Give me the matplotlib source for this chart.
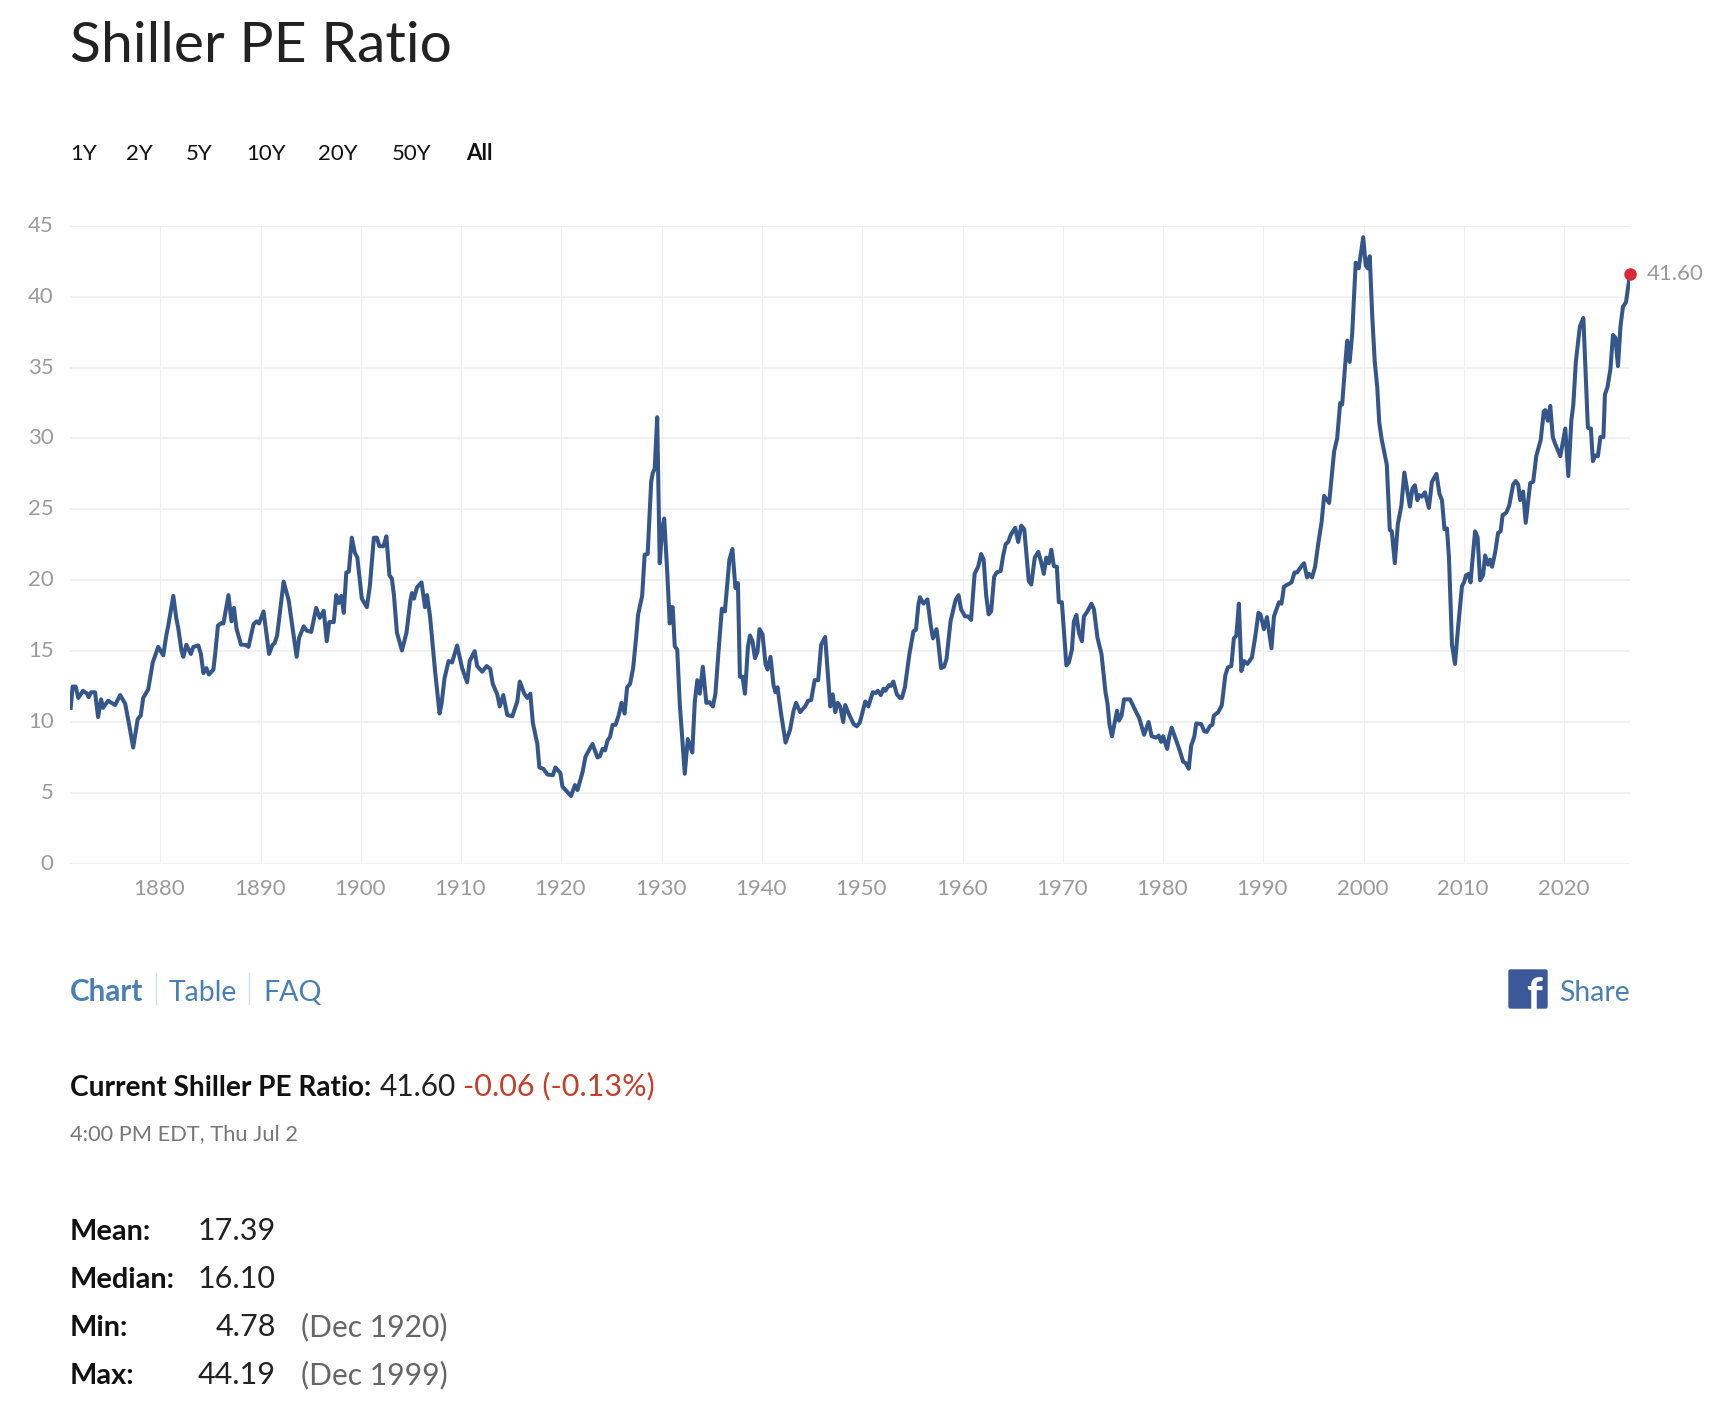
import matplotlib
matplotlib.use("Agg")
import matplotlib.pyplot as plt
from matplotlib.patches import FancyBboxPatch
from matplotlib.lines import Line2D
from matplotlib.transforms import ScaledTranslation

W, H = 1732, 1424

# values, decimal year / ratio
years_early = [1871.07, 1871.26, 1871.56, 1871.83, 1872.3, 1872.7, 1872.86, 1873.1, 1873.5, 1873.8,
               1874.1, 1874.3, 1874.8, 1875.5, 1876.0, 1876.5, 1876.9, 1877.3, 1877.75, 1878.05,
               1878.3, 1878.8, 1879.25, 1879.8, 1880.3, 1880.6, 1880.8, 1881.3, 1881.6, 1881.8,
               1882.1, 1882.3, 1882.6, 1883.05, 1883.3, 1883.8, 1884.05, 1884.3, 1884.6, 1884.85,
               1885.3, 1885.5, 1885.75, 1886.15, 1886.3, 1886.8, 1887.1, 1887.35, 1887.6, 1888.05,
               1888.5, 1888.8, 1889.3, 1889.6, 1889.85, 1890.3, 1890.85, 1891.2, 1891.4, 1891.65,
               1892.3, 1892.8, 1893.6, 1893.85, 1894.3, 1894.6, 1895.05, 1895.55, 1895.9, 1896.3,
               1896.6, 1896.85, 1897.3, 1897.55, 1897.8, 1898.05, 1898.3, 1898.55, 1898.8, 1899.1,
               1899.4, 1899.65, 1900.1, 1900.6, 1900.9, 1901.3, 1901.6, 1901.85, 1902.25, 1902.55,
               1902.85, 1903.1, 1903.3, 1903.6, 1904.1, 1904.55, 1904.95, 1905.1, 1905.3, 1905.6,
               1906.05, 1906.4, 1906.6, 1906.9, 1907.4, 1907.85, 1908.05, 1908.35, 1908.75, 1909.1,
               1909.6, 1910.1, 1910.6, 1910.85, 1911.35, 1911.6, 1912.1, 1912.55, 1912.9, 1913.15,
               1913.6, 1913.85, 1914.2, 1914.6, 1915.1, 1915.6, 1915.85, 1916.3, 1916.6, 1916.9,
               1917.15, 1917.6, 1917.8, 1918.2, 1918.6, 1919.15, 1919.4, 1919.9, 1920.1, 1920.6,
               1920.95, 1921.35, 1921.6, 1922.1, 1922.4, 1922.7, 1923.1, 1923.6]
values_early = [11.0, 12.5, 12.5, 11.7, 12.2, 12.0, 11.75, 12.1, 12.1, 10.35,
                11.6, 11.0, 11.5, 11.2, 11.9, 11.3, 9.8, 8.2, 10.2, 10.45,
                11.7, 12.3, 14.2, 15.3, 14.7, 16.1, 16.8, 18.9, 17.3, 16.6,
                15.1, 14.6, 15.45, 14.8, 15.3, 15.4, 14.8, 13.45, 13.8, 13.35,
                13.7, 14.95, 16.8, 17.0, 16.95, 18.95, 17.1, 18.05, 16.6, 15.45,
                15.45, 15.3, 16.9, 17.1, 16.95, 17.8, 14.8, 15.45, 15.55, 16.1,
                19.9, 18.6, 14.6, 15.95, 16.75, 16.45, 16.35, 18.05, 17.35, 17.85,
                15.7, 17.05, 17.05, 18.95, 18.4, 18.9, 17.7, 20.55, 20.6, 23.0,
                21.95, 21.6, 18.7, 18.1, 19.6, 23.0, 23.0, 22.4, 22.4, 23.1,
                20.35, 20.1, 18.95, 16.3, 15.05, 16.3, 18.6, 19.1, 18.7, 19.5,
                19.85, 18.1, 18.95, 17.45, 13.6, 10.6, 11.3, 13.1, 14.3, 14.2,
                15.4, 13.8, 12.8, 14.3, 15.0, 13.95, 13.55, 13.95, 13.75, 12.7,
                11.95, 11.1, 11.9, 10.5, 10.4, 11.45, 12.85, 12.0, 11.7, 12.0,
                9.95, 8.45, 6.8, 6.7, 6.3, 6.25, 6.8, 6.4, 5.45, 5.05,
                4.78, 5.55, 5.2, 6.45, 7.55, 7.95, 8.45, 7.5]

years_middle = [1923.85, 1924.1, 1924.35, 1924.6, 1924.85, 1925.1, 1925.4, 1925.7, 1926.0, 1926.3,
                1926.55, 1926.85, 1927.15, 1927.45, 1927.65, 1928.05, 1928.3, 1928.6, 1928.95, 1929.1,
                1929.3, 1929.55, 1929.8, 1930.05, 1930.25, 1930.55, 1930.8, 1930.95, 1931.1, 1931.3,
                1931.55, 1931.8, 1932.3, 1932.6, 1933.05, 1933.3, 1933.55, 1933.8, 1934.1, 1934.45,
                1934.75, 1935.1, 1935.35, 1935.7, 1936.0, 1936.3, 1936.75, 1937.05, 1937.35, 1937.6,
                1937.8, 1938.05, 1938.3, 1938.6, 1938.8, 1939.05, 1939.3, 1939.55, 1939.75, 1940.05,
                1940.35, 1940.55, 1940.85, 1941.15, 1941.35, 1941.55, 1941.9, 1942.35, 1942.8, 1943.15,
                1943.4, 1943.8, 1944.3, 1944.6, 1944.9, 1945.25, 1945.6, 1945.9, 1946.3, 1946.8,
                1947.05, 1947.3, 1947.55, 1947.8, 1948.1, 1948.3, 1948.7, 1949.15, 1949.45, 1949.75,
                1950.3, 1950.6, 1951.05, 1951.35, 1951.55, 1951.85, 1952.1, 1952.3, 1952.65, 1952.85,
                1953.1, 1953.45, 1953.75, 1953.95, 1954.25, 1954.7, 1955.1, 1955.35, 1955.6, 1955.75,
                1956.1, 1956.5, 1956.8, 1957.05, 1957.4, 1957.55, 1957.85, 1958.15, 1958.4, 1958.8,
                1959.3, 1959.6, 1959.85, 1960.25, 1960.55, 1960.85, 1961.2, 1961.55, 1961.85, 1962.1,
                1962.35, 1962.6, 1962.85, 1963.15, 1963.4, 1963.8, 1964.05, 1964.3, 1964.55, 1964.8,
                1965.25, 1965.55, 1965.85, 1966.15, 1966.6, 1966.85, 1967.2, 1967.55, 1967.85, 1968.1,
                1968.35, 1968.6, 1968.85, 1969.1, 1969.4, 1969.6, 1969.9, 1970.35, 1970.6, 1970.9,
                1971.1, 1971.35, 1971.6, 1971.9, 1972.1, 1972.45, 1972.85, 1973.1, 1973.45, 1973.85,
                1974.25, 1974.45, 1974.65, 1974.9, 1975.4, 1975.6, 1975.85, 1976.1, 1976.7, 1977.1,
                1977.6, 1978.1, 1978.55, 1978.85, 1979.3, 1979.55, 1979.8, 1980.0, 1980.4, 1980.6,
                1980.85]
values_middle = [7.6, 8.1, 8.0, 8.7, 8.95, 9.8, 9.8, 10.45, 11.35, 10.6,
                 12.45, 12.7, 13.8, 15.95, 17.6, 18.9, 21.8, 21.85, 26.95, 27.55,
                 27.85, 31.5, 21.2, 23.65, 24.35, 20.6, 16.95, 18.1, 18.1, 15.35,
                 15.1, 11.3, 6.35, 8.8, 7.85, 11.45, 12.95, 12.0, 13.9, 11.35,
                 11.4, 11.1, 11.95, 15.3, 18.0, 17.8, 21.45, 22.2, 19.45, 19.8,
                 13.2, 13.2, 12.0, 15.3, 16.1, 15.7, 14.5, 14.95, 16.55, 16.2,
                 14.1, 13.7, 14.6, 12.6, 12.1, 12.45, 10.6, 8.55, 9.45, 10.8,
                 11.35, 10.7, 11.1, 11.5, 11.55, 12.95, 12.95, 15.45, 16.0, 11.1,
                 11.95, 10.7, 11.35, 11.1, 10.0, 11.2, 10.5, 9.85, 9.7, 9.95,
                 11.45, 11.1, 12.1, 12.05, 12.2, 11.9, 12.35, 12.2, 12.6, 12.55,
                 12.85, 11.95, 11.7, 11.7, 12.45, 14.8, 16.4, 16.5, 18.3, 18.8,
                 18.35, 18.65, 16.95, 15.9, 16.55, 15.8, 13.8, 13.9, 14.45, 17.1,
                 18.6, 18.95, 17.95, 17.45, 17.45, 17.2, 20.45, 20.95, 21.85, 21.45,
                 18.95, 17.6, 17.8, 20.25, 20.55, 20.65, 21.75, 22.55, 22.7, 23.2,
                 23.7, 22.7, 23.85, 23.6, 19.95, 19.7, 21.6, 22.0, 21.25, 20.45,
                 21.6, 21.2, 22.15, 21.0, 20.95, 18.45, 18.45, 14.0, 14.2, 15.1,
                 17.1, 17.55, 16.3, 15.7, 17.45, 17.8, 18.35, 17.95, 15.95, 14.8,
                 12.1, 11.3, 9.8, 9.0, 10.8, 10.1, 10.45, 11.6, 11.6, 11.0,
                 10.3, 9.1, 10.0, 9.0, 8.9, 9.05, 8.6, 9.0, 8.1, 8.95,
                 9.6]

years_late = [1981.25, 1981.6, 1982.0, 1982.25, 1982.55, 1982.8, 1983.1, 1983.3, 1983.8, 1984.1,
              1984.35, 1984.65, 1984.9, 1985.05, 1985.5, 1985.85, 1986.2, 1986.45, 1986.8, 1987.05,
              1987.3, 1987.55, 1987.8, 1988.1, 1988.4, 1988.85, 1989.2, 1989.5, 1989.7, 1990.05,
              1990.35, 1990.8, 1991.05, 1991.55, 1991.8, 1992.05, 1992.8, 1993.1, 1993.35, 1993.75,
              1994.05, 1994.35, 1994.55, 1994.85, 1995.15, 1995.5, 1995.8, 1996.05, 1996.55, 1997.05,
              1997.35, 1997.65, 1997.85, 1998.1, 1998.35, 1998.6, 1998.85, 1999.2, 1999.5, 1999.95,
              2000.2, 2000.4, 2000.6, 2000.85, 2001.1, 2001.35, 2001.55, 2001.8, 2002.3, 2002.6,
              2002.8, 2003.1, 2003.4, 2003.75, 2004.05, 2004.6, 2004.85, 2005.1, 2005.35, 2005.55,
              2005.8, 2006.1, 2006.5, 2006.8, 2007.25, 2007.55, 2007.8, 2008.05, 2008.3, 2008.5,
              2008.8, 2009.1, 2009.4, 2009.8, 2010.0, 2010.2, 2010.45, 2010.65, 2011.1, 2011.35,
              2011.6, 2011.9, 2012.1, 2012.4, 2012.6, 2012.8, 2013.1, 2013.4, 2013.65, 2013.85,
              2014.2, 2014.5, 2014.9, 2015.15, 2015.4, 2015.6, 2015.9, 2016.15, 2016.6, 2016.9,
              2017.2, 2017.65, 2017.95, 2018.1, 2018.35, 2018.6, 2018.85, 2019.1, 2019.6, 2020.1,
              2020.4, 2020.7, 2020.9, 2021.15, 2021.55, 2021.9, 2022.35, 2022.65, 2022.85, 2023.1,
              2023.35, 2023.6, 2023.9, 2024.05, 2024.3, 2024.6, 2024.85, 2025.1, 2025.35, 2025.6,
              2025.85, 2026.15, 2026.55]
values_late = [8.8, 8.1, 7.2, 7.1, 6.7, 8.35, 8.95, 9.9, 9.85, 9.35,
               9.3, 9.7, 9.8, 10.45, 10.7, 11.2, 13.3, 13.85, 13.95, 15.9,
               16.1, 18.35, 13.6, 14.3, 14.1, 14.55, 16.1, 17.7, 17.6, 16.55,
               17.4, 15.2, 17.45, 18.45, 18.35, 19.55, 19.85, 20.55, 20.55, 20.95,
               21.2, 20.2, 20.45, 20.2, 20.95, 22.75, 24.1, 25.95, 25.45, 29.1,
               30.0, 32.5, 32.4, 34.75, 36.9, 35.4, 37.4, 42.4, 42.0, 44.19,
               42.2, 42.0, 42.85, 38.6, 35.4, 33.6, 31.1, 29.9, 28.15, 23.55,
               23.45, 21.2, 23.95, 25.25, 27.6, 25.2, 26.45, 26.7, 25.65, 26.0,
               25.9, 26.2, 25.1, 26.95, 27.5, 26.1, 25.65, 23.6, 23.65, 21.6,
               15.45, 14.1, 16.6, 19.6, 19.85, 20.35, 20.45, 19.85, 23.45, 23.05,
               20.0, 20.35, 21.75, 21.1, 21.45, 20.95, 21.95, 23.35, 23.45, 24.6,
               24.75, 25.25, 26.75, 27.0, 26.75, 25.65, 26.25, 24.05, 26.85, 26.95,
               28.75, 29.9, 31.9, 32.0, 31.25, 32.3, 30.1, 29.6, 28.75, 30.7,
               27.35, 31.25, 32.4, 35.4, 37.9, 38.5, 30.75, 30.7, 28.4, 28.8,
               28.75, 30.1, 30.1, 33.1, 33.6, 34.9, 37.3, 37.1, 35.1, 37.9,
               39.3, 39.6, 41.6]

y_ticks = [0, 5, 10, 15, 20, 25, 30, 35, 40, 45]
x_ticks = [1880, 1890, 1900, 1910, 1920, 1930, 1940, 1950, 1960, 1970, 1980, 1990, 2000, 2010, 2020]
range_labels = ["1Y", "2Y", "5Y", "10Y", "20Y", "50Y", "All"]
range_x = [70, 126, 186, 246, 318, 392, 466]
stat_names = ["Mean:", "Median:", "Min:", "Max:"]
stat_values = ["17.39", "16.10", "4.78", "44.19"]
stat_dates = ["", "", "(Dec 1920)", "(Dec 1999)"]
stat_y = [1240, 1288, 1336, 1384]

LINE = "#35568a"
GRID = "#efefef"
TICK = "#9a9a9a"
LINK = "#4a7fb5"
FONT = "Lato"

plt.rcParams["font.family"] = [FONT, "DejaVu Sans"]


def label(x, y, s, size, color="#111111", weight="normal", ha="left", va="baseline"):
    # x, y are image pixels from the top left
    return fig.text(x / W, 1 - y / H, s, fontsize=size, color=color, fontweight=weight, ha=ha, va=va)


fig = plt.figure(figsize=(W / 100, H / 100), dpi=100, facecolor="white")
ax = fig.add_axes([70 / W, 1 - 863.8 / H, 1560 / W, (863.8 - 225.8) / H])

years = years_early + years_middle + years_late
values = values_early + values_middle + values_late
ax.plot(years, values, color=LINE, linewidth=2.9, solid_joinstyle="round", zorder=3)
ax.plot(years[-1], values[-1], "o", color="#d62a34", markersize=9, markeredgewidth=0,
        clip_on=False, zorder=4)

ax.set_xlim(1871, 2026.55)
ax.set_ylim(0, 45)
ax.set_xticks(x_ticks)
ax.set_yticks(y_ticks)
ax.xaxis.grid(True, color=GRID, linewidth=0.8)
ax.yaxis.grid(True, color=GRID, linewidth=1.2)
ax.set_axisbelow(True)
for spine in ax.spines.values():
    spine.set_visible(False)
ax.tick_params(length=0, labelsize=16, labelcolor=TICK, pad=0)
x_shift = ScaledTranslation(-1 / 100, 0, fig.dpi_scale_trans)
y_shift = ScaledTranslation(0, 2 / 100, fig.dpi_scale_trans)
for t in ax.get_xticklabels():
    t.set_y(-0.0245)
    t.set_transform(t.get_transform() + x_shift)
for t in ax.get_yticklabels():
    t.set_x(-0.0105)
    t.set_transform(t.get_transform() + y_shift)
ax.text(1.0105, 41.62, "41.60", transform=ax.get_yaxis_transform(), fontsize=16, color=TICK,
        va="center", ha="left", clip_on=False)

label(70.5, 61.7, "Shiller PE Ratio", 41, color="#222222")
for x, s in zip(range_x, range_labels):
    label(x, 160, s, 16, weight="bold" if s == "All" else "normal")

label(70, 1001, "Chart", 21.3, color=LINK, weight="bold")
label(169, 1001, "Table", 20.4, color=LINK)
label(263, 1001, "FAQ", 20.6, color=LINK)
for x in (155.5, 249):
    fig.add_artist(Line2D([x / W, x / W], [1 - 973 / H, 1 - 1004 / H], color="#d5dde8", linewidth=1))

icon = FancyBboxPatch((1509 / W, 1 - 1008 / H), 38 / W, 38 / H, boxstyle="round,pad=0,rounding_size=0.001",
                      transform=fig.transFigure, facecolor="#3b5998", edgecolor="#3b5998", linewidth=1)
fig.add_artist(icon)
fig.text(1534 / W, 1 - 1009 / H, "f", fontsize=32, color="white", fontweight="bold", ha="center", va="baseline")
label(1559, 1001, "Share", 20.4, color=LINK)

label(70, 1095.7, "Current Shiller PE Ratio:", 20.2, weight="bold")
label(380, 1095.7, "41.60", 21.5, color="#222222")
label(463, 1095.7, "-0.06 (-0.13%)", 22, color="#c4402a")
label(70, 1140.5, "4:00 PM EDT, Thu Jul 2", 15.7, color="#777777")

for name, val, date, y in zip(stat_names, stat_values, stat_dates, stat_y):
    label(70, y, name, 20.8, weight="bold")
    label(276, y, val, 22, color="#222222", ha="right")
    label(301, y, date, 21.6, color="#666666")

fig.savefig("out.png", dpi=100, facecolor="white")
